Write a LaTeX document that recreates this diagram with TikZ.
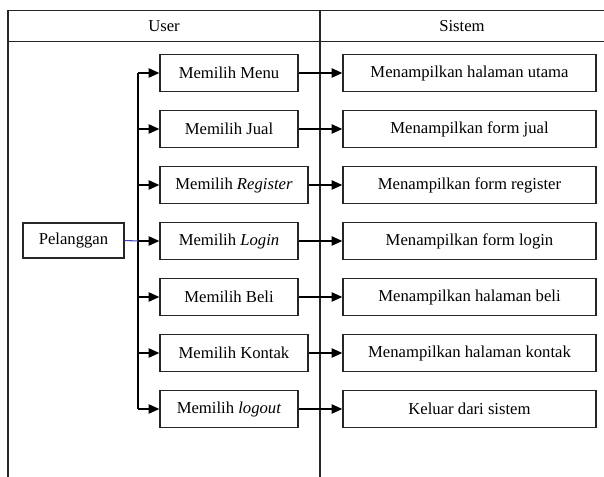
\documentclass[tikz,border=0pt]{standalone}
\usepackage{fontspec}
\setmainfont{Liberation Serif}
\usetikzlibrary{arrows.meta}
\begin{document}
\begin{tikzpicture}[x=0.75pt,y=-0.75pt,
  frame/.style={line width=0.9pt,draw=black!85},
  box/.style={draw=black!85,line width=1pt,inner sep=0pt,minimum height=37*0.75pt,font=\fontsize{12.5}{14}\selectfont},
  ubox/.style={box,minimum width=138*0.75pt},
  wbox/.style={box,minimum width=148*0.75pt},
  sbox/.style={box,minimum width=253*0.75pt},
  hdr/.style={font=\fontsize{12.5}{14}\selectfont},
  conn/.style={line width=0.9pt,draw=black},
  arr/.style={conn,-{Triangle[length=8pt,width=7pt]}},
  blue line/.style={line width=0.8pt,draw=blue!50!gray}]
\useasboundingbox (0,0) rectangle (604,477);
% table frame
\coordinate (tl) at (8,10.5);
\coordinate (tr) at (606,10.5);
\coordinate (hl) at (8,41.5);
\coordinate (hr) at (606,41.5);
\coordinate (bl) at (8,478);
\coordinate (dt) at (320,10.5);
\coordinate (db) at (320,478);
\draw[frame] (tr) -- (tl) -- (bl);
\draw[frame] (hl) -- (hr);
\draw[frame] (dt) -- (db);
\node[hdr] (huser) at (164,26) {User};
\node[hdr] (hsis) at (462,26) {Sistem};
% actor
\node[box,minimum width=101*0.75pt,minimum height=35*0.75pt] (pel) at (73.5,240.5) {Pelanggan};
% user boxes
\node[ubox] (u1) at (229,73) {Memilih Menu};
\node[ubox] (u2) at (229,129) {Memilih Jual};
\node[wbox] (u3) at (234,185) {Memilih \textit{Register}};
\node[ubox] (u4) at (229,241) {Memilih \textit{Login}};
\node[ubox] (u5) at (229,297) {Memilih Beli};
\node[wbox] (u6) at (234,353) {Memilih Kontak};
\node[ubox] (u7) at (229,409) {Memilih \textit{logout}};
% system boxes
\node[sbox] (s1) at (469.5,73) {Menampilkan halaman utama};
\node[sbox] (s2) at (469.5,129) {Menampilkan form jual};
\node[sbox] (s3) at (469.5,185) {Menampilkan form register};
\node[sbox] (s4) at (469.5,241) {Menampilkan form login};
\node[sbox] (s5) at (469.5,297) {Menampilkan halaman beli};
\node[sbox] (s6) at (469.5,353) {Menampilkan halaman kontak};
\node[sbox] (s7) at (469.5,409) {Keluar dari sistem};
% bus
\foreach \i/\yy in {1/73,2/129,3/185,4/241,5/297,6/353,7/409}{
  \coordinate (b\i) at (138,\yy);
}
\draw[conn] (b1) -- (b7);
\draw[blue line] (pel.east) -- (b4);
\foreach \i in {1,...,7}{
  \draw[arr] (b\i) -- (u\i.west);
  \draw[arr] (u\i.east) -- (s\i.west);
}
\end{tikzpicture}
\end{document}
